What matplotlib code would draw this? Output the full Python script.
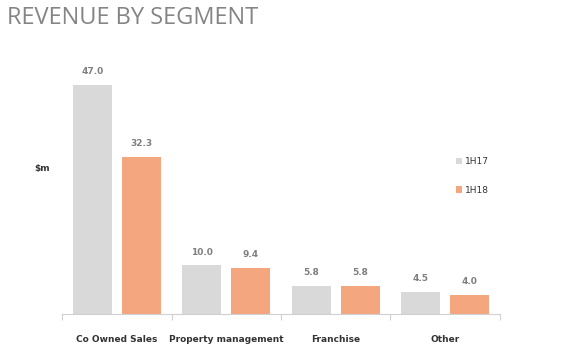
import numpy as np
import matplotlib.pyplot as plt

categories = ["Co Owned Sales", "Property management", "Franchise", "Other"]
h1_17 = [47.0, 10.0, 5.8, 4.5]
h1_18 = [32.3, 9.4, 5.8, 4.0]
series_names = ["1H17", "1H18"]

grey = "#d9d9d9"
orange = "#f4a77f"

fig = plt.figure(figsize=(5.8, 3.52), dpi=100)
ax = fig.add_axes([0.107, 0.108, 0.755, 0.722])

x = np.arange(len(categories))
w = 0.356
gap = 0.09
b1 = ax.bar(x - (w + gap) / 2, h1_17, w, color=grey, label=series_names[0])
b2 = ax.bar(x + (w + gap) / 2, h1_18, w, color=orange, label=series_names[1])

for bars, vals in [(b1, h1_17), (b2, h1_18)]:
    for b, v in zip(bars, vals):
        ax.text(b.get_x() + b.get_width() / 2, v + 1.8, "%.1f" % v, ha="center", va="bottom",
                fontsize=6.5, fontweight="bold", color="#7f7f7f")

ax.set_xlim(-0.5, len(categories) - 0.5)
ax.set_ylim(0, 52.2)
ax.set_yticks([])
for s in ["top", "right", "left"]:
    ax.spines[s].set_visible(False)
ax.spines["bottom"].set_color("#d0d0d0")
ax.set_xticks(np.arange(len(categories) + 1) - 0.5, minor=False)
ax.set_xticklabels([])
ax.tick_params(axis="x", length=4, color="#d0d0d0")
ax.set_xticks(x, minor=True)
ax.set_xticklabels(categories, minor=True, fontsize=6.5, fontweight="bold", color="#333333")
ax.tick_params(axis="x", which="minor", length=0, pad=15)

fig.text(0.06, 1 - 169 / 352, "$m", fontsize=6.5, fontweight="bold", color="#333333", va="center")

ax.legend(loc="upper left", bbox_to_anchor=(0.88, 0.65), frameon=False, fontsize=6.5,
          handlelength=0.7, handleheight=0.7, labelspacing=2.2, handletextpad=0.3,
          labelcolor="#333333")

fig.text(0.012, 1 - 18 / 352, "REVENUE BY SEGMENT", fontsize=17, color="#858585",
         family="Open Sans", va="center")

fig.savefig("out.png", dpi=100)
